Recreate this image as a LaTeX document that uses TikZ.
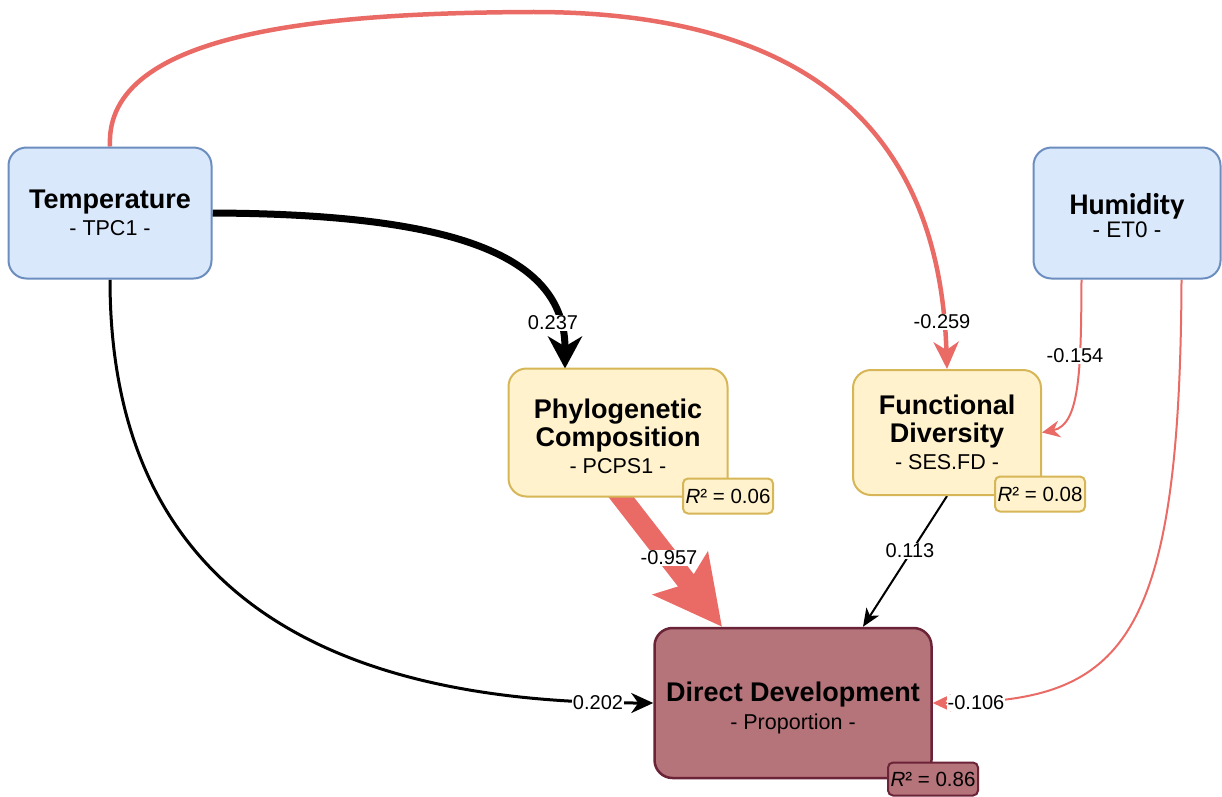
\documentclass[tikz,border=0pt]{standalone}
\usepackage{fontspec}
\setmainfont{Liberation Sans}
\newfontfamily\humfont{Carlito}
\usetikzlibrary{arrows.meta,backgrounds,calc}

\definecolor{blueFill}{HTML}{DAE8FC}
\definecolor{blueLine}{HTML}{6C8EBF}
\definecolor{yelFill}{HTML}{FFF2CC}
\definecolor{yelLine}{HTML}{D6B656}
\definecolor{ddFill}{HTML}{B5737A}
\definecolor{ddLine}{HTML}{6B2337}
\definecolor{negRed}{HTML}{EA6B66}

\newcommand{\titlefont}{\fontsize{27}{28}\selectfont\bfseries}
\tikzset{
  box/.style={rounded corners=18pt, line width=2pt, align=center, inner sep=0pt,
    font=\fontsize{21.5}{27.5}\selectfont},
  driver/.style={box, fill=blueFill, draw=blueLine},
  mediator/.style={box, fill=yelFill, draw=yelLine},
  response/.style={box, fill=ddFill, draw=ddLine, line width=2.5pt},
  rsq/.style={rounded corners=5pt, line width=2pt, inner sep=0pt,
    minimum width=90pt, minimum height=35pt, font=\fontsize{20.5}{24}\selectfont},
  coef/.style={fill=white, inner sep=1pt, font=\fontsize{20}{22}\selectfont},
  poseffect/.style={draw=black},
  negeffect/.style={draw=negRed},
}

\begin{document}
\begin{tikzpicture}[x=1pt, y=-1pt]
\useasboundingbox (0,0) rectangle (1222,796);

% boxes
\node[driver, minimum width=203pt, minimum height=131pt] (temp) at (110,213)
  {{\titlefont Temperature}\\- TPC1 -};
\node[driver, minimum width=187pt, minimum height=131pt] (hum) at (1127,213)
  {\rule{0pt}{26pt}\humfont{\fontsize{30}{30}\selectfont\bfseries Humidity}\\[-4pt]\fontsize{22.5}{24}\selectfont - ET0 -};
\node[mediator, minimum width=219pt, minimum height=128pt] (phylo) at (618,432.5)
  {\rule{0pt}{28pt}{\titlefont Phylogenetic}\\{\titlefont Composition}\\- PCPS1 -};
\node[mediator, minimum width=188pt, minimum height=125pt] (fd) at (947,432.5)
  {{\titlefont Functional}\\{\titlefont Diversity}\\- SES.FD -};
\node[response, minimum width=277pt, minimum height=150pt] (dd) at (793,703)
  {\rule{0pt}{29pt}{\titlefont Direct Development}\\- Proportion -};

% explained variance tags
\node[rsq, fill=yelFill, draw=yelLine] (rphylo) at (728,496) {\textit{R}² = 0.06};
\node[rsq, fill=yelFill, draw=yelLine] (rfd) at (1040,494) {\textit{R}² = 0.08};
\node[rsq, fill=ddFill, draw=ddLine, minimum width=90pt, minimum height=33pt] (rdd) at (933,779) {\textit{R}² = 0.86};

% paths
\begin{scope}[on background layer]
  \draw[negeffect, line width=4.5pt, -{Stealth[length=27pt, width=25pt, inset=8pt]}]
    (temp.north) .. controls (104,30) and (330,13) .. (530,12)
    .. controls (830,11) and (940,150) .. (fd.north);
  \draw[poseffect, line width=7pt, -{Stealth[length=32pt, width=34pt, inset=10pt]}]
    (temp.east) .. controls (440,214) and (565,250) .. (565,368.5);
  \draw[poseffect, line width=3pt, -{Stealth[length=22pt, width=20pt, inset=7pt]}]
    (temp.south) .. controls (110,640) and (400,703) .. (dd.west);
  \draw[negeffect, line width=20pt, -{Stealth[length=67pt, width=68pt, inset=12pt]}]
    ($(phylo.south)+(-9,-16)$) -- ($(dd.north)+(-71,0)$);
  \draw[poseffect, line width=2pt, -{Stealth[length=18pt, width=15pt, inset=5pt]}]
    (fd.south) -- ($(dd.north)+(70,0)$);
  \draw[negeffect, line width=2pt, -{Stealth[length=18pt, width=17pt, inset=6pt]}]
    ($(hum.south west)+(49,0)$) .. controls (1081,370) and (1080,425) .. (fd.east);
  \draw[negeffect, line width=2pt, -{Stealth[length=18pt, width=17pt, inset=6pt]}]
    ($(hum.south east)+(-40,0)$) .. controls (1180,650) and (1120,702) .. (dd.east);
\end{scope}

% path coefficients
\node[coef] (c1) at (942,322) {-0.259};
\node[coef] (c2) at (553,323) {0.237};
\node[coef] (c3) at (598,703) {0.202};
\node[coef] (c4) at (669,558) {-0.957};
\node[coef] (c5) at (910,551) {0.113};
\node[coef] (c6) at (1075,356) {-0.154};
\node[coef] (c7) at (976,703) {-0.106};
\end{tikzpicture}
\end{document}
